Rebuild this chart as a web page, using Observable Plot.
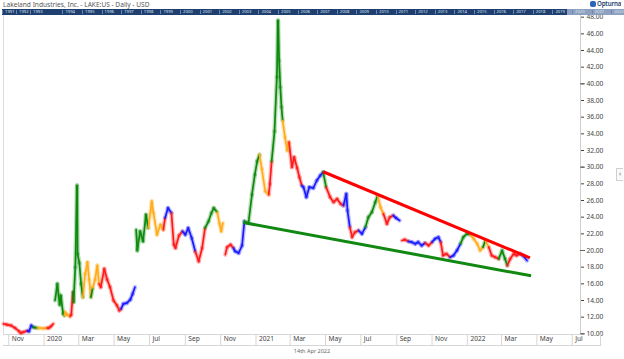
<!DOCTYPE html>
<html>
<head>
<meta charset="utf-8">
<script src="https://cdn.jsdelivr.net/npm/d3@7"></script>
<script src="https://cdn.jsdelivr.net/npm/@observablehq/plot@0.6"></script>
<style>
  body { margin: 0; background: #fff; }
  #wrap { position: relative; width: 624px; height: 359px; overflow: hidden; font-family: 'Noto Sans', 'Open Sans', sans-serif; }
  #chart { position: absolute; left: 0; top: 0; }
  .abs { position: absolute; }
  #title { left: 3px; top: 0px; font-size: 6.6px; color: #555; white-space: nowrap; }
  #nav { left: 2px; top: 9px; width: 622px; height: 6px; background: #1e3f6f; overflow: hidden; }
  #navHi { position: absolute; left: 565px; top: 0; width: 57px; height: 6px; background: #8da0bf; }
  .yr { position: absolute; top: 0px; font-size: 4.2px; line-height: 6px; color: #dfe6f2; white-space: nowrap; }
  .sep { position: absolute; top: 1px; width: 1px; height: 4px; background: #6f86ab; }
  #logo { left: 590px; top: 0px; height: 8px; font-size: 6.2px; color: #1e3f6f; font-weight: 600; white-space: nowrap; line-height: 8px; letter-spacing: -0.2px; overflow: hidden; }
  #logo span.ic { display: inline-block; width: 6px; height: 6px; background: #2a67b8; border-radius: 2px; margin-right: 1px; vertical-align: -1px; }
  #xbox { left: 3px; top: 334px; width: 597px; height: 11px; border-bottom: 1px solid #d6d6d6; border-right: 1px solid #d6d6d6; }
  #date { left: 0; width: 624px; top: 347px; text-align: center; font-size: 5.5px; color: #666; }
  #tab { left: 616px; top: 168px; width: 6px; height: 11px; border: 1px solid #d0d0d0; border-right: none; font-size: 7px; line-height: 10px; color: #666; text-align: center; background: #fafafa; }
</style>
</head>
<body>
<div id="wrap">
  <div id="chart"></div>
  <div id="title" class="abs">Lakeland Industries, Inc. - LAKE:US - Daily - USD</div>
  <div id="nav" class="abs"><div id="navHi"></div></div>
  <div id="logo" class="abs"><span class="ic"></span>Opturna</div>
  <div id="xbox" class="abs"></div>
  <div id="date" class="abs">14th Apr 2022</div>
  <div id="tab" class="abs">‹</div>
</div>
<script>
// ---- price data (approximate closes) ----
const dates = [
  "2019-10-23","2019-10-29","2019-11-05","2019-11-12","2019-11-19","2019-11-22","2019-11-26","2019-12-03","2019-12-06","2019-12-10",
  "2019-12-13","2019-12-17","2019-12-20","2019-12-24","2019-12-31","2020-01-06","2020-01-09","2020-01-13","2020-01-17",
  "2020-01-20","2020-01-24","2020-01-28","2020-01-30","2020-02-03","2020-02-05","2020-02-06","2020-02-10","2020-02-15","2020-02-17",
  "2020-02-20","2020-02-21","2020-02-24","2020-02-27","2020-02-28","2020-03-02","2020-03-05","2020-03-08","2020-03-12","2020-03-16",
  "2020-03-19","2020-03-22","2020-03-25","2020-03-29","2020-04-02","2020-04-05","2020-04-08","2020-04-14","2020-04-19","2020-04-24",
  "2020-04-30","2020-05-06","2020-05-10","2020-05-13","2020-05-17","2020-05-23","2020-05-29","2020-06-02","2020-06-06",
  "2020-06-08","2020-06-10","2020-06-15","2020-06-20","2020-06-25","2020-06-29","2020-07-05","2020-07-08","2020-07-14","2020-07-20",
  "2020-07-25","2020-07-28","2020-08-02","2020-08-08","2020-08-12","2020-08-15","2020-08-21","2020-08-27","2020-09-01","2020-09-06",
  "2020-09-12","2020-09-18","2020-09-24","2020-09-30","2020-10-05","2020-10-11","2020-10-16","2020-10-20","2020-10-26","2020-10-30",
  "2020-11-02","2020-11-05",
  "2020-11-09","2020-11-12","2020-11-18","2020-11-23","2020-11-26","2020-12-02","2020-12-08","2020-12-12","2020-12-19","2020-12-25",
  "2020-12-30","2021-01-03","2021-01-07","2021-01-11","2021-01-17","2021-01-23","2021-01-25","2021-01-28","2021-02-02","2021-02-06",
  "2021-02-08","2021-02-10","2021-02-12","2021-02-14","2021-02-16","2021-02-20","2021-02-24","2021-02-27","2021-03-04","2021-03-08",
  "2021-03-13","2021-03-17","2021-03-21","2021-03-24","2021-03-29","2021-04-03","2021-04-10","2021-04-16","2021-04-22","2021-04-27",
  "2021-05-02","2021-05-09","2021-05-15","2021-05-21","2021-05-27","2021-06-01","2021-06-06","2021-06-08","2021-06-12","2021-06-16",
  "2021-06-21","2021-06-27","2021-07-03","2021-07-09","2021-07-14","2021-07-20","2021-07-26","2021-07-30","2021-08-04","2021-08-09",
  "2021-08-15","2021-08-20","2021-08-26","2021-08-31","2021-09-06",
  "2021-09-10","2021-09-15","2021-09-21","2021-09-27","2021-10-03","2021-10-08","2021-10-14","2021-10-20","2021-10-26","2021-11-01",
  "2021-11-06","2021-11-12","2021-11-16","2021-11-20","2021-11-26","2021-12-02","2021-12-08","2021-12-14","2021-12-20","2021-12-25",
  "2021-12-31","2022-01-06","2022-01-12","2022-01-18","2022-01-23","2022-01-28","2022-02-01","2022-02-07","2022-02-12","2022-02-18",
  "2022-02-24","2022-03-02","2022-03-07","2022-03-11","2022-03-16","2022-03-22","2022-03-27","2022-04-02","2022-04-07","2022-04-14"
];
const closes = [
  11.2,11.1,11.0,10.7,10.3,10.1,10.2,10.35,10.3,11.0,
  10.8,10.75,10.7,10.7,10.65,10.7,10.7,10.9,11.2,
  14.0,16.0,13.5,14.6,12.4,12.2,12.6,12.3,12.1,12.3,
  15.0,13.8,18.0,27.8,19.6,18.5,16.0,14.4,17.2,18.6,
  16.5,14.4,15.5,16.5,18.2,16.0,15.6,17.8,16.5,15.6,
  14.0,13.4,12.8,13.0,13.6,13.7,14.1,14.8,15.6,
  22.5,20.0,22.3,21.1,24.3,22.7,25.9,24.5,21.9,23.1,
  22.5,23.9,25.1,24.5,20.7,20.3,21.8,22.3,21.9,22.7,
  21.5,19.9,18.7,20.3,22.7,23.5,24.5,25.1,24.6,23.2,
  22.3,23.3,
  19.5,20.4,20.7,20.3,19.9,19.7,20.6,23.5,23.3,26.7,
  29.1,30.7,31.5,29.8,27.1,26.7,28.0,30.7,34.3,40.8,
  47.6,42.8,39.6,37.2,35.6,33.6,32.0,33.0,30.0,31.2,
  29.9,28.8,27.8,27.6,26.4,27.6,27.5,28.4,29.0,29.4,
  27.6,26.4,25.8,26.2,25.6,25.4,26.8,24.8,22.8,21.6,
  22.2,22.4,22.0,22.8,24.0,24.6,25.8,26.6,25.2,24.4,
  23.2,24.0,24.2,23.9,23.6,
  21.2,21.3,21.1,21.0,20.8,21.0,20.6,20.9,20.6,21.0,
  21.4,21.6,21.0,19.4,19.6,19.2,19.4,20.0,20.8,21.6,
  22.0,21.9,21.4,20.8,20.0,20.4,21.2,20.4,19.4,19.2,
  19.0,20.0,19.0,18.2,19.0,19.6,19.4,19.6,19.4,18.8
];
// colour phase of each point: r = red, g = green, o = orange, b = blue
const phases = [
  "r","r","r","r","r","r","r","r","b","b",
  "b","g","g","o","o","o","r","r","r",
  "g","g","g","g","g","g","o","o","o","r",
  "r","g","g","g","g","g","g","g","o","o",
  "o","o","g","o","o","o","r","r","r","r",
  "r","r","r","r","b","b","b","b","b",
  "g","g","g","g","g","g","o","o","o","o",
  "o","r","b","b","r","r","r","r","b","b",
  "b","b","r","r","r","g","g","g","g","o",
  "o","o",
  "r","r","r","r","b","b","b","b","g","g",
  "g","g","g","o","o","o","r","r","g","g",
  "g","g","g","g","g","o","o","o","r","r",
  "r","r","r","b","b","b","b","b","b","b",
  "g","r","r","r","r","r","b","b","b","r",
  "r","r","b","b","g","g","g","g","o","o",
  "r","r","r","b","b",
  "r","r","r","b","b","b","b","b","r","r",
  "b","b","b","r","r","r","b","b","b","g",
  "g","g","o","o","o","o","g","o","r","r",
  "r","g","g","g","r","r","r","r","b","b"
];
// first dates after a price gap (no connecting stroke)
const gapStarts = ["2020-01-20","2020-06-08","2020-11-09","2021-09-10"];

// ---- trend lines ----
const resistanceDates = ["2021-04-27","2022-04-19"];
const resistanceValues = [29.45, 19.12];
const supportDates = ["2020-12-10","2022-04-21"];
const supportValues = [23.36, 16.96];

// ---- axes ----
const yTicks = [10,12,14,16,18,20,22,24,26,28,30,32,34,36,38,40,42,44,46,48];
const yMajor = [10,20,30,40];
const xTickDates = ["2019-11-01","2020-01-01","2020-03-01","2020-05-01","2020-07-01","2020-09-01","2020-11-01",
  "2021-01-01","2021-03-01","2021-05-01","2021-07-01","2021-09-01","2021-11-01","2022-01-01","2022-03-01","2022-05-01","2022-07-01"];
const xTickLabels = ["Nov","2020","Mar","May","Jul","Sep","Nov","2021","Mar","May","Jul","Sep","Nov","2022","Mar","May","Jul"];
const navYears = [1991,1992,1993,1994,1995,1996,1997,1998,1999,2000,2001,2002,2003,2004,2005,2006,2007,2008,2009,2010,2011,2012,2013,2014,2015,2016,2017,2018,2019,2020,2021,2022];

const palette = {r: "#ff1a1a", g: "#0b8a0b", o: "#ffab1a", b: "#1a1aff"};

// build segments
const parse = d3.utcParse("%Y-%m-%d");
const gapSet = new Set(gapStarts);
const segs = [];
for (let i = 1; i < dates.length; i++) {
  if (gapSet.has(dates[i])) continue;
  segs.push({x1: parse(dates[i-1]), y1: closes[i-1], x2: parse(dates[i]), y2: closes[i], c: palette[phases[i]]});
}
const trends = [
  {x1: parse(resistanceDates[0]), y1: resistanceValues[0], x2: parse(resistanceDates[1]), y2: resistanceValues[1], c: "#ff0000"},
  {x1: parse(supportDates[0]), y1: supportValues[0], x2: parse(supportDates[1]), y2: supportValues[1], c: "#118811"}
];
const xTicks = xTickDates.map(parse);
const labels = xTicks.map((d, i) => ({date: d, label: xTickLabels[i]}));
const xDomain = [new Date(Date.UTC(2019, 9, 23)), new Date(Date.UTC(2022, 6, 15, 8))];
const yDomain = [9.92, 48.2];
// length of the longer major tick, expressed along the time axis (about 5px)
const majorTickEnd = new Date(+xDomain[1] + 8.6 * 864e5);

const chart = Plot.plot({
  width: 624,
  height: 359,
  marginTop: 15,
  marginBottom: 25,
  marginLeft: 3,
  marginRight: 44,
  x: {type: "utc", domain: xDomain, axis: "bottom", ticks: xTicks, tickSize: 11, tickFormat: () => "", label: null},
  y: {domain: yDomain, axis: "right", ticks: yTicks, tickSize: 3, tickPadding: 3, tickFormat: d => d.toFixed(2), label: null},
  color: {type: "identity"},
  style: {fontFamily: "'Noto Sans', 'Open Sans', sans-serif", fontSize: "6.6px", color: "#444", background: "transparent", overflow: "visible"},
  marks: [
    Plot.ruleX([xDomain[0]], {stroke: "#dcdcdc"}),
    Plot.ruleX([xDomain[1]], {stroke: "#cfcfcf"}),
    Plot.ruleY([yDomain[0]], {stroke: "#d6d6d6"}),
    Plot.ruleY(yMajor, {x1: xDomain[1], x2: majorTickEnd, stroke: "#666"}),
    Plot.link(segs, {x1: "x1", y1: "y1", x2: "x2", y2: "y2", stroke: "c", strokeWidth: 4.4, strokeOpacity: 0.28, strokeLinecap: "round"}),
    Plot.link(segs, {x1: "x1", y1: "y1", x2: "x2", y2: "y2", stroke: "c", strokeWidth: 1.7, strokeLinecap: "round"}),
    Plot.link(trends, {x1: "x1", y1: "y1", x2: "x2", y2: "y2", stroke: "c", strokeWidth: 3}),
    Plot.text(labels, {x: "date", text: "label", frameAnchor: "bottom", dy: 6, dx: 3, textAnchor: "start", fill: "#444"})
  ]
});
// light grey separators for the date axis
d3.select(chart).selectAll("g[aria-label='x-axis'] line, g[aria-label='x-axis tick'] line").attr("stroke", "#d6d6d6");
d3.select(chart).selectAll("g[aria-label='x-axis'] path, g[aria-label='x-axis tick'] path").attr("stroke", "#d6d6d6");
d3.select(chart).selectAll("g[aria-label='y-axis'] line, g[aria-label='y-axis'] path").attr("stroke", "#666");
document.getElementById("chart").appendChild(chart);

// navigator bar year labels
const nav = document.getElementById("nav");
navYears.forEach(y => {
  const x = y >= 1994 ? 573 + (y - 2020) * 19.6 : 3 + (y - 1991) * 14;
  const s = document.createElement("div");
  s.className = "sep"; s.style.left = (x - 3) + "px"; nav.appendChild(s);
  const t = document.createElement("div");
  t.className = "yr"; t.style.left = x + "px"; t.textContent = y; nav.appendChild(t);
});
</script>
</body>
</html>
